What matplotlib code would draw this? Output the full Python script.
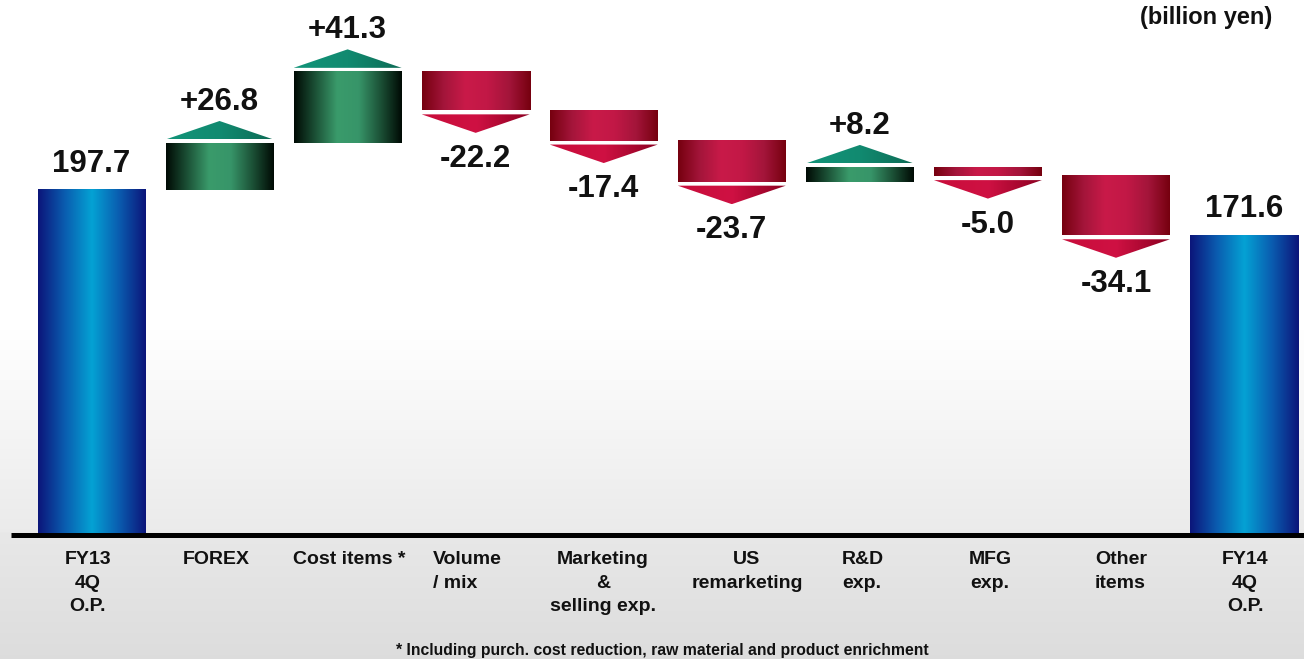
import numpy as np
import matplotlib
matplotlib.use("Agg")
import matplotlib.pyplot as plt
from matplotlib.colors import LinearSegmentedColormap
from matplotlib.patches import Polygon

# ---------------- data ----------------
categories = ["FY13\n4Q\nO.P.", "FOREX", "Cost items *", "Volume\n/ mix",
              "Marketing\n&\nselling exp.", "US\nremarketing", "R&D\nexp.",
              "MFG\nexp.", "Other\nitems", "FY14\n4Q\nO.P."]
start_total = 197.7
changes = [26.8, 41.3, -22.2, -17.4, -23.7, 8.2, -5.0, -34.1]
end_total = 171.6
unit_label = "(billion yen)"
footnote = "* Including purch. cost reduction, raw material and product enrichment"

# ---------------- layout ----------------
W, H, DPI = 1304, 659, 100
c0_px, step_px = 91.5, 128.06          # bar centre of first category, spacing
base_px = 533.0                         # pixel row of value 0
ppu = 1.735                             # pixels per billion yen
bar_w = 108 / step_px

def px2x(px):
    return (px - c0_px) / step_px

def dy(px):
    return px / ppu

plt.rcParams["font.family"] = ["Liberation Sans", "DejaVu Sans"]
fig = plt.figure(figsize=(W / DPI, H / DPI), dpi=DPI)
ax = fig.add_axes([0, 0, 1, 1])
xlim = (px2x(0), px2x(W))
ylim = (-(H - base_px) / ppu, base_px / ppu)

# background vertical gradient
rows = np.arange(H)
gray = np.ones(H)
m1 = (rows >= 330) & (rows < 532)
gray[m1] = 1.0 - (rows[m1] - 330) / (532 - 330) * (1 - 0.92)
m2 = rows >= 532
gray[m2] = 0.91 - (rows[m2] - 532) / (H - 532) * (0.91 - 0.865)
bg = np.repeat(gray[:, None], 4, axis=1)
bg = np.dstack([bg, bg, bg])
ax.imshow(bg, extent=(xlim[0], xlim[1], ylim[0], ylim[1]), aspect="auto",
          zorder=0, interpolation="bilinear")

blue_cm = LinearSegmentedColormap.from_list("b", ["#0c157a", "#0a5db0", "#04a2d4", "#0a5db0", "#0c157a"])
green_cm = LinearSegmentedColormap.from_list("g", ["#000a04", "#1c5237", "#3a9b6b", "#379569", "#1c5237", "#000a04"])
greentri_cm = LinearSegmentedColormap.from_list("gt", ["#129479", "#118a70", "#0d6b55"])
red_cm = LinearSegmentedColormap.from_list("r", ["#76000f", "#a3153a", "#c91a49", "#c21846", "#a3153a", "#76000f"])
redtri_cm = LinearSegmentedColormap.from_list("rt", ["#c80d3a", "#cf1143", "#8c0021"])

grad = np.linspace(0, 1, 256).reshape(1, -1)

def grad_rect(x0, x1, y0, y1, cmap, z=2):
    ax.imshow(grad, cmap=cmap, extent=(x0, x1, y0, y1), aspect="auto",
              interpolation="bicubic", zorder=z)

def grad_tri(pts, cmap, z=3):
    poly = Polygon(pts, closed=True, facecolor="none", edgecolor="none", zorder=z)
    ax.add_patch(poly)
    xs = [p[0] for p in pts]
    ys = [p[1] for p in pts]
    im = ax.imshow(grad, cmap=cmap, extent=(min(xs), max(xs), min(ys), max(ys)),
                   aspect="auto", interpolation="bicubic", zorder=z)
    im.set_clip_path(poly)

val_kw = dict(fontsize=22.5, fontweight="bold", ha="center", va="baseline", color="#111111", zorder=5)
tri_h = dy(18.5)
gap = dy(4)

# totals
for i, v in [(0, start_total), (len(categories) - 1, end_total)]:
    grad_rect(i - bar_w / 2, i + bar_w / 2, 0, v, blue_cm)
    ax.text(i, v + dy(18), f"{v:.1f}", **val_kw)

# changes
level = start_total
for k, c in enumerate(changes):
    i = k + 1
    lo, hi = min(level, level + c), max(level, level + c)
    x0, x1 = i - bar_w / 2, i + bar_w / 2
    if c > 0:
        grad_rect(x0, x1, lo, hi, green_cm)
        b = hi + gap
        grad_tri([(x0, b), (x1, b), (i, b + tri_h)], greentri_cm)
        ax.text(i, b + tri_h + dy(11), f"{c:+.1f}", **val_kw)
    else:
        grad_rect(x0, x1, lo, hi, red_cm)
        b = lo - gap
        grad_tri([(x0, b), (x1, b), (i, b - tri_h)], redtri_cm)
        ax.text(i, b - tri_h - dy(34), f"{c:.1f}", **val_kw)
    level += c

# baseline
ax.plot([px2x(11), px2x(W)], [-dy(1.5), -dy(1.5)], color="black", lw=3.6,
        solid_capstyle="butt", zorder=4)

# category labels (x anchor in pixels, alignment)
label_pos = [(88, "center"), (216, "center"), (349, "center"), (433, "left"),
             (603, "center"), (747, "center"), (842, "left"), (990, "center"),
             (1095, "left"), (1245, "center")]
for lab, (px, ha) in zip(categories, label_pos):
    ax.text(px2x(px), -dy(551 - base_px), lab, fontsize=14, fontweight="bold",
            ha=ha, va="top", multialignment=ha,
            linespacing=1.5, color="#111111", zorder=5)

ax.text(px2x(1272), dy(base_px - 24), unit_label, fontsize=17, fontweight="bold",
        ha="right", va="baseline", color="#111111", zorder=5)
ax.text(px2x(662), -dy(650 - base_px), footnote, fontsize=11.3, fontweight="bold",
        ha="center", va="center", color="#111111", zorder=5)

ax.set_xlim(*xlim)
ax.set_ylim(*ylim)
ax.axis("off")
fig.savefig("out.png", dpi=DPI)
